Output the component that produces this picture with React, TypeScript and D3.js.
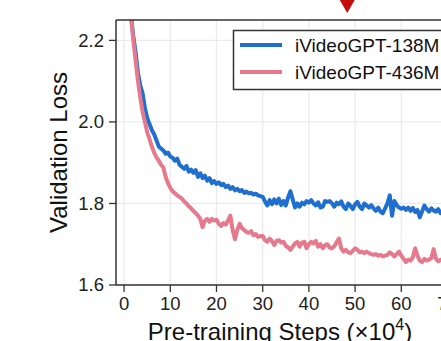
import { useMemo } from 'react';
import { scaleLinear, line, curveLinear } from 'd3';

const W = 441;
const H = 341;

// eval steps start at 1.5 (x10^4), one every 0.5
const stepStart = 1.5;
const stepSize = 0.5;

const loss138M = [
  2.26, 2.21, 2.17, 2.12, 2.09, 2.07, 2.035, 2.01, 1.995, 1.98,
  1.97, 1.955, 1.94, 1.935, 1.93, 1.922, 1.925, 1.915, 1.912, 1.905,
  1.91, 1.895, 1.89, 1.885, 1.892, 1.878, 1.883, 1.875, 1.882, 1.865,
  1.874, 1.862, 1.868, 1.856, 1.862, 1.85, 1.855, 1.848, 1.852, 1.845,
  1.848, 1.84, 1.844, 1.836, 1.84, 1.832, 1.836, 1.83, 1.833, 1.826,
  1.829, 1.825, 1.826, 1.822, 1.824, 1.82, 1.818, 1.816, 1.805, 1.795,
  1.808, 1.798, 1.81, 1.8, 1.812, 1.796, 1.806, 1.795, 1.815, 1.83,
  1.81, 1.79, 1.8, 1.792, 1.802, 1.798, 1.806, 1.802, 1.808, 1.8,
  1.795, 1.803, 1.79, 1.792, 1.806, 1.804, 1.806, 1.8, 1.792, 1.802,
  1.798, 1.805, 1.792, 1.786, 1.8, 1.794, 1.786, 1.798, 1.804, 1.792,
  1.786, 1.8, 1.795, 1.79, 1.796, 1.788, 1.782, 1.79, 1.78, 1.776,
  1.788, 1.8, 1.82, 1.77, 1.806, 1.796, 1.79, 1.787, 1.79, 1.784,
  1.79, 1.782, 1.789, 1.779, 1.784, 1.766, 1.78, 1.795, 1.786, 1.78,
  1.788, 1.783, 1.78, 1.786, 1.776, 1.778, 1.775, 1.778,
];

const loss436M = [
  2.26, 2.2, 2.15, 2.1, 2.06, 2.025, 2.0, 1.975, 1.958, 1.94,
  1.925, 1.913, 1.905, 1.895, 1.888, 1.865, 1.85, 1.838, 1.83, 1.825,
  1.82, 1.816, 1.812, 1.805, 1.8, 1.793, 1.788, 1.782, 1.776, 1.77,
  1.762, 1.742, 1.758, 1.762, 1.755, 1.762, 1.758, 1.76, 1.75, 1.745,
  1.752, 1.748, 1.758, 1.77, 1.735, 1.712, 1.735, 1.75, 1.74, 1.735,
  1.73, 1.728, 1.732, 1.722, 1.725, 1.718, 1.72, 1.72, 1.71, 1.706,
  1.714, 1.708, 1.698, 1.708, 1.71, 1.704, 1.706, 1.696, 1.692, 1.686,
  1.694, 1.702, 1.706, 1.694, 1.704, 1.706, 1.69, 1.7, 1.706, 1.702,
  1.708, 1.694, 1.7, 1.69, 1.698, 1.7, 1.692, 1.69, 1.695, 1.705,
  1.714, 1.69, 1.682, 1.686, 1.68, 1.678, 1.684, 1.69, 1.686, 1.68,
  1.682, 1.678, 1.682, 1.678, 1.676, 1.674, 1.676, 1.672, 1.674, 1.67,
  1.672, 1.674, 1.68, 1.676, 1.67, 1.676, 1.682, 1.672, 1.664, 1.656,
  1.662, 1.66, 1.668, 1.69, 1.672, 1.66, 1.656, 1.664, 1.66, 1.662,
  1.666, 1.688, 1.664, 1.658, 1.662, 1.658, 1.66, 1.656,
];

const seriesNames = ['iVideoGPT-138M', 'iVideoGPT-436M'];
const seriesColors = ['#1f6fd1', '#e6798b'];
const xTicks = [0, 10, 20, 30, 40, 50, 60, 70];
const yTicks = [1.6, 1.8, 2.0, 2.2];
const markerStep = 48.3;

const font = '"Liberation Sans", Arial, Helvetica, sans-serif';

const App = () => {
  const left = 116;
  const top = 20;
  const bottom = 285;

  const xScale = useMemo(() => scaleLinear().domain([-1.75, 75]).range([left, 470.6]), []);
  const yScale = useMemo(() => scaleLinear().domain([1.6, 2.25]).range([bottom, top]), []);

  const lineGen = line<number>()
    .x((_, i) => xScale(stepStart + i * stepSize))
    .y((d) => yScale(d))
    .curve(curveLinear);

  const right = xScale.range()[1];
  const mx = xScale(markerStep);

  return (
    <svg
      width={W}
      height={H}
      style={{ position: 'absolute', left: 0, top: 0, background: '#fff' }}
      fontFamily={font}
    >
      <defs>
        <clipPath id="plot-clip">
          <rect x={left} y={top} width={right - left} height={bottom - top} />
        </clipPath>
      </defs>

      {/* grid */}
      <g stroke="#ebebeb" strokeWidth={1.3}>
        {xTicks.map((t) => (
          <line key={'gx' + t} x1={xScale(t)} x2={xScale(t)} y1={top} y2={bottom} />
        ))}
        {yTicks.map((t) => (
          <line key={'gy' + t} x1={left} x2={right} y1={yScale(t)} y2={yScale(t)} />
        ))}
      </g>

      {/* series */}
      <g clipPath="url(#plot-clip)" fill="none" strokeWidth={4} strokeLinejoin="round">
        <path d={lineGen(loss138M) || ''} stroke={seriesColors[0]} />
        <path d={lineGen(loss436M) || ''} stroke={seriesColors[1]} />
      </g>

      {/* spines */}
      <g stroke="#333" strokeWidth={1.5} fill="none">
        <line x1={left} x2={left} y1={top} y2={bottom} />
        <line x1={left} x2={right} y1={bottom} y2={bottom} />
        <line x1={left} x2={right} y1={top} y2={top} />
      </g>

      {/* y axis */}
      <g fontSize={18.5} fill="#222" textAnchor="end">
        {yTicks.map((t) => (
          <g key={'yt' + t}>
            <line x1={left - 7} x2={left} y1={yScale(t)} y2={yScale(t)} stroke="#333" strokeWidth={1.3} />
            <text x={left - 12} y={yScale(t)} dy="0.35em">
              {t.toFixed(1)}
            </text>
          </g>
        ))}
      </g>

      {/* x axis */}
      <g fontSize={18.5} fill="#222" textAnchor="middle">
        {xTicks.map((t) => (
          <g key={'xt' + t}>
            <line x1={xScale(t)} x2={xScale(t)} y1={bottom} y2={bottom + 7} stroke="#333" strokeWidth={1.3} />
            <text x={xScale(t)} y={bottom + 25}>
              {t}
            </text>
          </g>
        ))}
      </g>

      <text
        transform={`translate(67, ${(top + bottom) / 2}) rotate(-90)`}
        textAnchor="middle"
        fontSize={24}
        fill="#111"
      >
        Validation Loss
      </text>

      <text x={280} y={340} textAnchor="middle" fontSize={24} fill="#111">
        Pre-training Steps (×10
        <tspan dy={-10} fontSize={16}>
          4
        </tspan>
        <tspan dy={10}>)</tspan>
      </text>

      {/* legend */}
      <g>
        <rect x={233.5} y={30.5} width={240} height={59} fill="#fff" stroke="#333" strokeWidth={1.5} />
        {seriesNames.map((name, i) => (
          <g key={name}>
            <line x1={240} x2={282} y1={45 + i * 27} y2={45 + i * 27} stroke={seriesColors[i]} strokeWidth={4} />
            <text x={295} y={45 + i * 27} dy="0.36em" fontSize={19} fill="#111">
              {name}
            </text>
          </g>
        ))}
      </g>

      {/* marker above the frame */}
      <path d={`M${mx - 7.5},0 L${mx + 7.5},0 L${mx},13 Z`} fill="#c40d0d" />
    </svg>
  );
};

export default App;
